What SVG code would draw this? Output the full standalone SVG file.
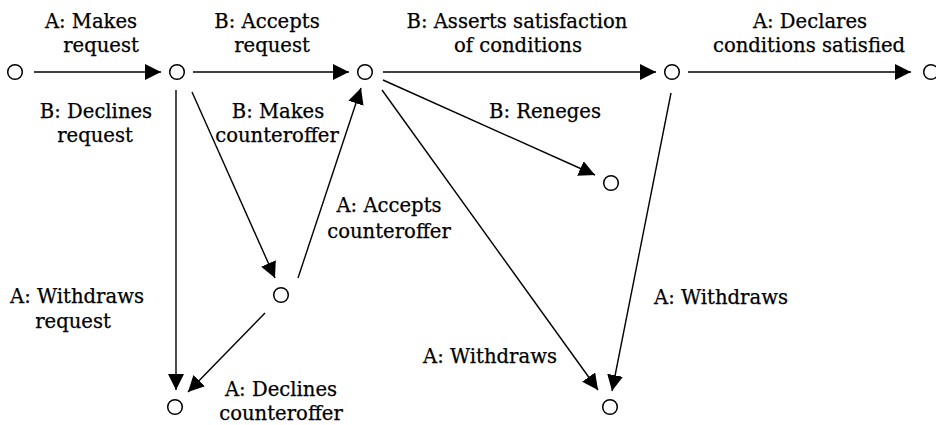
<svg xmlns="http://www.w3.org/2000/svg" width="936" height="425" viewBox="0 0 936 425">
<style>
.n{fill:#fff;stroke:#000;stroke-width:1.5}
.e{stroke:#000;stroke-width:1.4;fill:none;marker-end:url(#ah)}
text{font-family:"DejaVu Serif","Liberation Serif",serif;font-size:19.6px;fill:#000;stroke:#000;stroke-width:0.25;text-anchor:middle}
</style>
<defs>
<marker id="ah" markerUnits="userSpaceOnUse" markerWidth="17" markerHeight="16" refX="16" refY="8" orient="auto">
<path d="M0,0 L16,8 L0,16 z" fill="#000"/>
</marker>
</defs>
<rect width="936" height="425" fill="#fff"/>
<g id="connectors">
<line class="e" x1="34" y1="72" x2="161" y2="72"/>
<line class="e" x1="193" y1="72" x2="349" y2="72"/>
<line class="e" x1="383" y1="72" x2="656" y2="72"/>
<line class="e" x1="688" y1="72" x2="911" y2="72"/>
<line class="e" x1="176" y1="90" x2="176" y2="390"/>
<line class="e" x1="192" y1="92" x2="275" y2="278"/>
<line class="e" x1="298" y1="278" x2="361" y2="88"/>
<line class="e" x1="265" y1="313" x2="188" y2="392"/>
<line class="e" x1="383" y1="80" x2="595" y2="175"/>
<line class="e" x1="382" y1="90" x2="598" y2="390"/>
<line class="e" x1="671" y1="93" x2="612" y2="391"/>
</g>
<g id="n0"><circle class="n" cx="15" cy="72" r="7.3"/></g>
<g id="n1"><circle class="n" cx="177" cy="72" r="7.3"/></g>
<g id="n2"><circle class="n" cx="365" cy="72" r="7.3"/></g>
<g id="n3"><circle class="n" cx="672" cy="72" r="7.3"/></g>
<g id="n4"><circle class="n" cx="931" cy="72" r="7.3"/></g>
<g id="n5"><circle class="n" cx="281" cy="295" r="7.3"/></g>
<g id="n6"><circle class="n" cx="611" cy="183" r="7.3"/></g>
<g id="n7"><circle class="n" cx="175" cy="407" r="7.3"/></g>
<g id="n8"><circle class="n" cx="610" cy="407" r="7.3"/></g>
<g id="labels">
<text x="91" y="28">A: Makes</text>
<text x="101" y="52">request</text>
<text x="267" y="28">B: Accepts</text>
<text x="272" y="52">request</text>
<text x="517" y="28">B: Asserts satisfaction</text>
<text x="518" y="52">of conditions</text>
<text x="810" y="28">A: Declares</text>
<text x="809" y="52">conditions satisfied</text>
<text x="96" y="118">B: Declines</text>
<text x="95" y="142">request</text>
<text x="278" y="118">B: Makes</text>
<text x="277" y="142">counteroffer</text>
<text x="545" y="118">B: Reneges</text>
<text x="389" y="212">A: Accepts</text>
<text x="389" y="238">counteroffer</text>
<text x="77" y="303">A: Withdraws</text>
<text x="73" y="328">request</text>
<text x="721" y="304">A: Withdraws</text>
<text x="490" y="363">A: Withdraws</text>
<text x="281" y="396">A: Declines</text>
<text x="281" y="420">counteroffer</text>
</g>
</svg>
